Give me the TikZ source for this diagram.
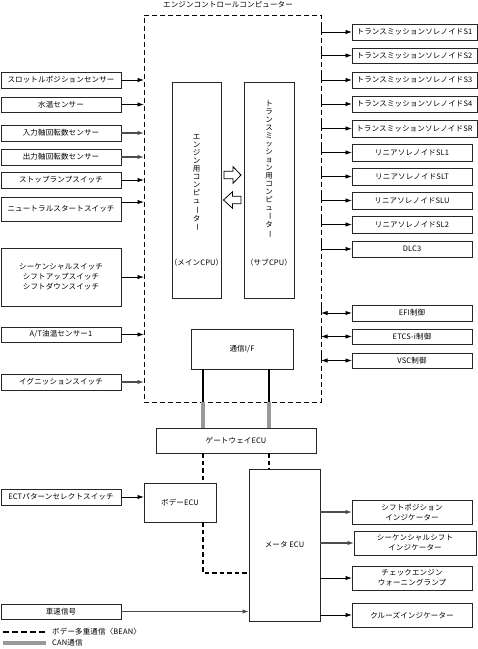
\documentclass[tikz,border=0pt]{standalone}
\usepackage{fontspec}
\usepackage{graphicx}
\newfontfamily\cjk[LetterSpace=2]{Noto Sans CJK JP}
\newfontfamily\cjkv{Noto Sans CJK JP}
\usetikzlibrary{arrows.meta,calc}
\newcommand\mybox[6]{\node[bx,minimum width={(#4-#2)*1pt},minimum height={(#5-#3)*1pt}] (#1) at ({(#2+#4)/2},{(#3+#5)/2}) {#6};}
\newcommand\vbar{\rotatebox[origin=c]{-90}{ー}}
\begin{document}
\begin{tikzpicture}[x=1pt,y=-1pt,
  every node/.style={font=\cjk\fontsize{7.5}{10}\selectfont},
  bx/.style={draw=black!85,line width=0.9pt,fill=white,inner sep=0pt,outer sep=0pt,align=center},
  ecubox/.style={draw=black,line width=0.8pt,dash pattern=on 5pt off 3pt,inner sep=0pt,outer sep=0pt},
  arr/.style={draw=black,line width=0.9pt,-{Latex[length=6.5pt,width=4.5pt]}},
  garr/.style={draw=black!70,line width=1.2pt,-{Latex[length=6.5pt,width=4.5pt]}},
  barr/.style={draw=black,line width=0.9pt,{Latex[length=6.5pt,width=4.5pt]}-{Latex[length=6.5pt,width=4.5pt]}},
  lin/.style={draw=black,line width=0.9pt},
  canblk/.style={draw=black,line width=2pt},
  can/.style={draw=black!40,line width=4pt},
  bean/.style={draw=black,line width=2pt,dash pattern=on 4.5pt off 3pt},
  vtxt/.style={align=center,inner sep=0pt,font=\cjkv\fontsize{7.5}{8}\selectfont}
]
\useasboundingbox (0,0) rectangle (478,649);

% engine control computer
\node[ecubox,minimum width=177pt,minimum height=387pt] (ecu) at (232.5,208.5) {};
\node (title) at (228,5) {エンジンコントロールコンピューター};

% CPUs
\mybox{eng}{172}{82}{221}{298}{}
\mybox{trn}{244}{82}{294}{298}{}
\node[vtxt] (engt) at (196.5,183) {エ\\ン\\ジ\\ン\\用\\コ\\ン\\ピ\\ュ\\\vbar\\タ\\\vbar};
\node (engs) at (196.5,263) {（メインCPU）};
\node[vtxt] (trnt) at (269,169) {ト\\ラ\\ン\\ス\\ミ\\ッ\\シ\\ョ\\ン\\用\\コ\\ン\\ピ\\ュ\\\vbar\\タ\\\vbar};
\node (trns) at (269,263) {（サブCPU）};
\draw[line width=0.8pt,fill=white] (224,171.3) -- (233,171.3) -- (233,166.7) -- (241,175) -- (233,183.3) -- (233,178.7) -- (224,178.7) -- cycle;
\draw[line width=0.8pt,fill=white] (241,196.3) -- (232.5,196.3) -- (232.5,191.7) -- (223.5,200) -- (232.5,208.3) -- (232.5,203.7) -- (241,203.7) -- cycle;

\mybox{comm}{191}{329}{293}{369}{通信I/F}

% left inputs
\mybox{lb1}{1}{72}{121}{88}{スロットルポジションセンサー}
\mybox{lb2}{1}{97}{121}{112}{水温センサー}
\mybox{lb3}{1}{125}{121}{141}{入力軸回転数センサー}
\mybox{lb4}{1}{149}{121}{165}{出力軸回転数センサー}
\mybox{lb5}{1}{172}{121}{188}{ストップランプスイッチ}
\mybox{lb6}{1}{197}{121}{221}{ニュートラルスタートスイッチ}
\mybox{lb7}{1}{248}{121}{306}{シーケンシャルスイッチ\\シフトアップスイッチ\\シフトダウンスイッチ}
\mybox{lb8}{1}{327}{121}{342}{A/T油温センサー1}
\mybox{lb9}{1}{374}{121}{390}{イグニッションスイッチ}
\mybox{lb10}{1}{489}{121}{505}{ECTパターンセレクトスイッチ}
\mybox{lb11}{1}{604}{121}{619}{車速信号}

\draw[arr] (lb1.east) -- (lb1.east -| ecu.west);
\draw[arr] (lb2.east) -- (lb2.east -| ecu.west);
\draw[garr] (lb3.east) -- (lb3.east -| ecu.west);
\draw[garr] (lb4.east) -- (lb4.east -| ecu.west);
\draw[arr] (lb5.east) -- (lb5.east -| ecu.west);
\draw[arr] ($(lb6.east)+(0,-7)$) coordinate (t6) -- (t6 -| ecu.west);
\draw[arr] (lb7.east) -- (lb7.east -| ecu.west);
\draw[arr] (lb8.east) -- (lb8.east -| ecu.west);
\draw[garr] (lb9.east) -- (lb9.east -| ecu.west);

% right outputs
\mybox{rb1}{352}{24}{477}{40}{トランスミッションソレノイドS1}
\mybox{rb2}{352}{48}{477}{63}{トランスミッションソレノイドS2}
\mybox{rb3}{352}{72}{477}{88}{トランスミッションソレノイドS3}
\mybox{rb4}{352}{96}{477}{112}{トランスミッションソレノイドS4}
\mybox{rb5}{352}{120}{477}{137}{トランスミッションソレノイドSR}
\mybox{rb6}{352}{144}{472}{161}{リニアソレノイドSL1}
\mybox{rb7}{352}{168}{472}{185}{リニアソレノイドSLT}
\mybox{rb8}{352}{192}{472}{209}{リニアソレノイドSLU}
\mybox{rb9}{352}{216}{472}{233}{リニアソレノイドSL2}
\mybox{rb10}{352}{241}{472}{257}{DLC3}
\mybox{rb11}{352}{305}{472}{321}{EFI制御}
\mybox{rb12}{352}{329}{472}{344}{ETCS-i制御}
\mybox{rb13}{352}{353}{472}{368}{VSC制御}

\foreach \r in {rb1,rb2,rb3,rb4,rb5,rb6,rb7,rb8,rb9,rb10}{
  \draw[arr] ($(ecu.east |- \r.west)+(0,-6)$) |- (\r.west);
}
\foreach \r in {rb11,rb12,rb13}{
  \draw[lin] ($(ecu.east |- \r.west)+(0,-6)$) -- (ecu.east |- \r.west);
  \draw[barr] (ecu.east |- \r.west) -- (\r.west);
}

% gateway etc.
\mybox{gw}{156}{428}{316}{453}{ゲートウェイECU}
\mybox{body}{144}{483}{216}{522}{ボデーECU}
\mybox{meter}{249}{469}{320}{621}{メータ\ ECU}

\coordinate (p1) at ($(comm.south west)+(12,0)$);
\coordinate (p2) at ($(comm.south west)+(78,0)$);
\draw[canblk] (p1) -- (p1 |- ecu.south);
\draw[canblk] (p2) -- (p2 |- ecu.south);
\draw[can] (p1 |- ecu.south) -- (p1 |- gw.north);
\draw[can] (p2 |- ecu.south) -- (p2 |- gw.north);

\draw[bean] (p1 |- gw.south) -- (p1 |- body.north);
\draw[bean] (p2 |- gw.south) -- (p2 |- meter.north);
\draw[bean] (p1 |- body.south) |- ($(meter.south west)+(0,-48)$);

\draw[arr] (lb10.east) -- (lb10.east -| body.west);
\draw[garr] (lb11.east) -- (lb11.east -| meter.west);

\mybox{ob1}{352}{500}{472}{524}{シフトポジション\\インジケーター}
\mybox{ob2}{354}{531}{476}{555}{シーケンシャルシフト\\インジケーター}
\mybox{ob3}{352}{566}{472}{590}{チェックエンジン\\ウォーニングランプ}
\mybox{ob4}{352}{603}{472}{627}{クルーズインジケーター}

\draw[garr] (meter.east |- ob1.west) -- (ob1.west);
\draw[garr] (meter.east |- ob2.west) -- (ob2.west);
\draw[arr] (meter.east |- ob3.west) -- (ob3.west);
\draw[arr] (meter.east |- ob4.west) -- (ob4.west);

% legend
\coordinate (lg1a) at (3,632);
\coordinate (lg1b) at (46,632);
\coordinate (lg2a) at (3,643);
\coordinate (lg2b) at (46,643);
\draw[bean,dash pattern=on 5.5pt off 3.5pt] (lg1a) -- (lg1b);
\draw[can] (lg2a) -- (lg2b);
\node[anchor=west,inner sep=0pt] (lgt1) at (52,632) {ボデー多重通信〈BEAN〉};
\node[anchor=west,inner sep=0pt] (lgt2) at (52,643) {CAN通信};
\end{tikzpicture}
\end{document}
